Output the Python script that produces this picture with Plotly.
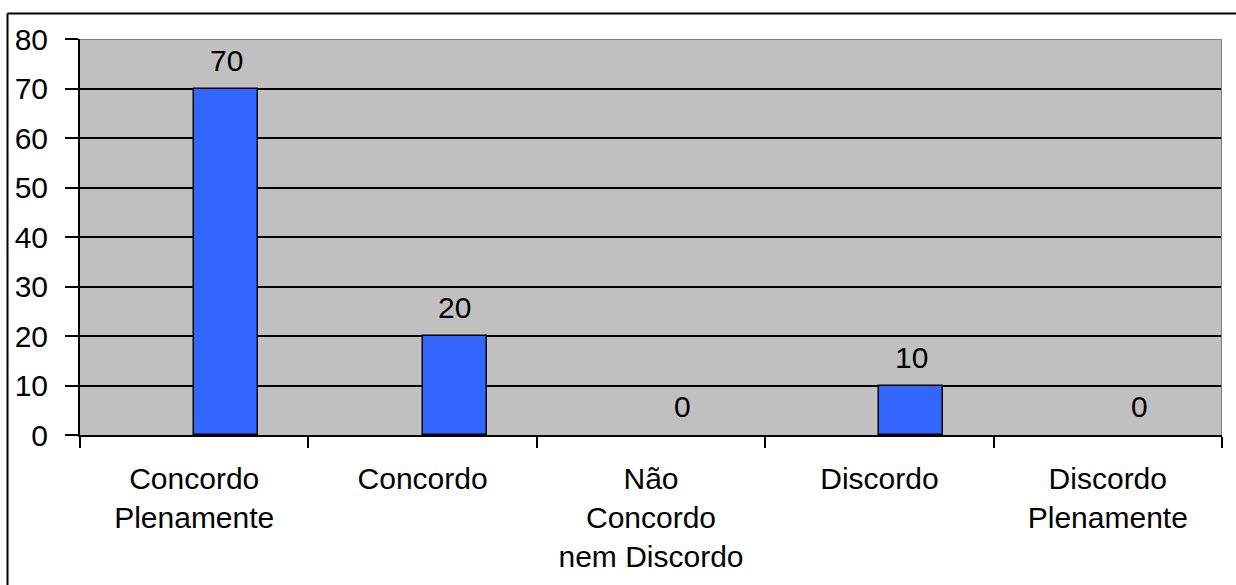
import plotly.graph_objects as go

categories = ["Concordo<br>Plenamente", "Concordo", "Não<br>Concordo<br>nem Discordo",
              "Discordo", "Discordo<br>Plenamente"]
values = [70, 20, 0, 10, 0]
y_ticks = [0, 10, 20, 30, 40, 50, 60, 70, 80]

FONT = "Liberation Sans, Arial, sans-serif"
FS = 30
BAR_W = 0.28

fig = go.Figure()
fig.add_trace(go.Bar(
    x=categories, y=values,
    width=BAR_W, offset=0,
    marker=dict(color="#3366FF",
                line=dict(color="black", width=[1.5 if v else 0 for v in values])),
    showlegend=False, hoverinfo="skip",
))

# value labels above each bar
for i, v in enumerate(values):
    fig.add_annotation(x=i + BAR_W / 2, y=v, text=str(v), showarrow=False,
                       yanchor="bottom", yshift=10,
                       font=dict(family=FONT, size=FS, color="black"))

# plot-area frame: grey top and right edges
fig.add_shape(type="line", xref="x", yref="y", x0=-0.5, x1=4.5, y0=80, y1=80,
              line=dict(color="#808080", width=2), layer="above")
fig.add_shape(type="line", xref="x", yref="y", x0=4.5, x1=4.5, y0=0, y1=80,
              line=dict(color="#808080", width=2), layer="above")

# outer chart border (top and left)
top_y = (585 - 150 - 13.5) / 396
left_x = (7.5 - 80) / 1142
fig.add_shape(type="line", xref="paper", yref="paper",
              x0=left_x, x1=1.2, y0=top_y, y1=top_y,
              line=dict(color="black", width=2))
fig.add_shape(type="line", xref="paper", yref="paper",
              x0=left_x, x1=left_x, y0=-0.5, y1=top_y,
              line=dict(color="black", width=2))

fig.update_layout(
    width=1236, height=585,
    margin=dict(l=80, r=14, t=39, b=150),
    paper_bgcolor="white", plot_bgcolor="#C0C0C0",
    font=dict(family=FONT, size=FS, color="black"),
    bargap=0,
)
fig.update_xaxes(
    type="category", range=[-0.5, 4.5], automargin=False,
    tickson="boundaries", ticks="outside", ticklen=11, tickwidth=2, tickcolor="black",
    showline=True, linecolor="black", linewidth=2,
    showgrid=False, ticklabelstandoff=16,
    tickfont=dict(family=FONT, size=FS, color="black"),
)
fig.update_yaxes(
    range=[0, 80], tickvals=y_ticks, automargin=False,
    ticks="outside", ticklen=13, tickwidth=2, tickcolor="black",
    showline=True, linecolor="black", linewidth=2,
    showgrid=True, gridcolor="black", gridwidth=1.5,
    zeroline=False, ticklabelstandoff=11,
    tickfont=dict(family=FONT, size=FS, color="black"),
)

fig.write_html("out.html")
